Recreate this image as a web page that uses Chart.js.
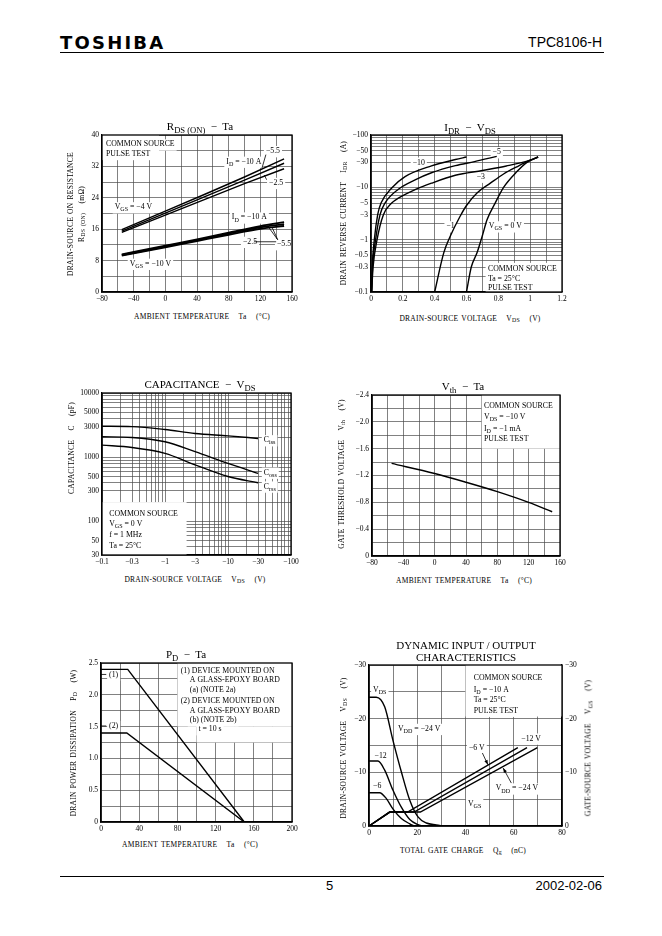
<!doctype html>
<html lang="en">
<head>
<meta charset="utf-8">
<meta name="viewport" content="width=device-width, initial-scale=1">
<title>TPC8106-H</title>
<style>
  body { margin: 0; background: #fff; }
  .page { position: relative; width: 662px; height: 936px; overflow: hidden; font-family: "Liberation Serif", "DejaVu Serif", serif; color: #000; }
  canvas { position: absolute; }
  .logo { position: absolute; left: 60px; top: 32px; font: bold 18px "DejaVu Sans", sans-serif; letter-spacing: 2.2px; }
  .part { position: absolute; right: 60px; top: 34px; font: 14px "Liberation Sans", sans-serif; }
  .rule { position: absolute; left: 60px; width: 544px; border-top: 1.3px solid #000; }
  .foot { position: absolute; top: 878px; font: 13px "Liberation Sans", sans-serif; }
  .c, .v { position: absolute; white-space: nowrap; transform: translate(-50%, -50%); }
  .v { transform: translate(-50%, -50%) rotate(-90deg); }
  .ttl { font-size: 11px; }
  .ax { font-size: 7.5px; letter-spacing: 0.25px; word-spacing: 1px; }
  sub { font-size: 0.78em; vertical-align: -0.3em; line-height: 0; }
</style>
</head>
<body>
<div class="page">
  <div class="logo">TOSHIBA</div>
  <div class="part">TPC8106-H</div>
  <div class="rule" style="top:52px"></div>

  <canvas id="rdsChart"></canvas>
  <canvas id="idrChart"></canvas>
  <canvas id="capChart"></canvas>
  <canvas id="vthChart"></canvas>
  <canvas id="pdChart"></canvas>
  <canvas id="dynChart"></canvas>

  <!-- RDS(ON) - Ta -->
  <div class="c ttl" style="left:200px;top:126px">R<sub>DS (ON)</sub> &nbsp;−&nbsp; Ta</div>
  <div class="v ax" style="left:70px;top:214px">DRAIN-SOURCE ON RESISTANCE</div>
  <div class="v ax" style="left:81px;top:214px">R<sub>DS (ON)</sub> &nbsp; (mΩ)</div>
  <div class="c ax" style="left:202px;top:316px">AMBIENT TEMPERATURE &nbsp; Ta &nbsp; (°C)</div>

  <!-- IDR - VDS -->
  <div class="c ttl" style="left:470px;top:127px">I<sub>DR</sub> &nbsp;−&nbsp; V<sub>DS</sub></div>
  <div class="v ax" style="left:343px;top:213px">DRAIN REVERSE CURRENT &nbsp; I<sub>DR</sub> &nbsp; (A)</div>
  <div class="c ax" style="left:470px;top:318px">DRAIN-SOURCE VOLTAGE &nbsp; V<sub>DS</sub> &nbsp; (V)</div>

  <!-- Capacitance - VDS -->
  <div class="c ttl" style="left:200px;top:384px">CAPACITANCE &nbsp;−&nbsp; V<sub>DS</sub></div>
  <div class="v ax" style="left:71px;top:448px">CAPACITANCE &nbsp; C &nbsp; (pF)</div>
  <div class="c ax" style="left:195px;top:579px">DRAIN-SOURCE VOLTAGE &nbsp; V<sub>DS</sub> &nbsp; (V)</div>

  <!-- Vth - Ta -->
  <div class="c ttl" style="left:463px;top:386px">V<sub>th</sub> &nbsp;−&nbsp; Ta</div>
  <div class="v ax" style="left:341px;top:474px">GATE THRESHOLD VOLTAGE &nbsp; V<sub>th</sub> &nbsp; (V)</div>
  <div class="c ax" style="left:464px;top:580px">AMBIENT TEMPERATURE &nbsp; Ta &nbsp; (°C)</div>

  <!-- PD - Ta -->
  <div class="c ttl" style="left:186px;top:654px">P<sub>D</sub> &nbsp;−&nbsp; Ta</div>
  <div class="v ax" style="left:73px;top:743px">DRAIN POWER DISSIPATION &nbsp; P<sub>D</sub> &nbsp; (W)</div>
  <div class="c ax" style="left:190px;top:844px">AMBIENT TEMPERATURE &nbsp; Ta &nbsp; (°C)</div>

  <!-- Dynamic input / output -->
  <div class="c ttl" style="left:466px;top:645px">DYNAMIC INPUT / OUTPUT</div>
  <div class="c ttl" style="left:466px;top:657px">CHARACTERISTICS</div>
  <div class="v ax" style="left:343px;top:748px">DRAIN-SOURCE VOLTAGE &nbsp; V<sub>DS</sub> &nbsp; (V)</div>
  <div class="v ax" style="left:588px;top:748px">GATE-SOURCE VOLTAGE &nbsp; V<sub>GS</sub> &nbsp; (V)</div>
  <div class="c ax" style="left:463px;top:850px">TOTAL GATE CHARGE &nbsp; Q<sub>g</sub> &nbsp; (nC)</div>

  <div class="rule" style="top:876px"></div>
  <div class="foot" style="left:326px">5</div>
  <div class="foot" style="right:60px">2002-02-06</div>
</div>

<script src="https://cdn.jsdelivr.net/npm/chart.js"></script>
<script>
  // RDS(ON) - Ta  (mOhm)
  const rdsTa4 = [-55, 0, 50, 100, 150];
  const rdsVgs4Id10 = [15.9, 20.6, 24.9, 29.3, 33.9];
  const rdsVgs4Id55 = [15.5, 20.1, 24.3, 28.5, 32.8];
  const rdsVgs4Id25 = [15.2, 19.6, 23.6, 27.6, 31.4];
  const rdsTa10 = [-55, 0, 40, 80, 120, 150];
  const rdsVgs10Id10 = [9.6, 11.8, 13.4, 15.1, 16.8, 17.8];
  const rdsVgs10Id55 = [9.4, 11.6, 13.2, 14.9, 16.5, 17.3];
  const rdsVgs10Id25 = [9.3, 11.4, 13.0, 14.6, 16.1, 16.8];
  const rdsTempLabels = [-80, -40, 0, 40, 80, 120, 160];
  const rdsLabels = [0, 8, 16, 24, 32, 40];

  // IDR - VDS  (|IDR| in A, VDS in V)
  const idrV10 = [0.004, 0.008, 0.021, 0.042, 0.063, 0.13, 0.214, 0.38, 0.53, 0.6];
  const idrI10 = [0.1, 0.3, 1, 3, 5, 9.7, 16, 25.7, 34, 38];
  const idrV5 = [0.004, 0.01, 0.029, 0.057, 0.088, 0.172, 0.277, 0.38, 0.53, 0.65, 0.79];
  const idrI5 = [0.1, 0.3, 1, 3, 5, 9.2, 13.9, 19, 26, 31, 39];
  const idrV3 = [0.004, 0.013, 0.038, 0.078, 0.13, 0.172, 0.277, 0.38, 0.53, 0.7, 0.85, 1.0, 1.05];
  const idrI3 = [0.1, 0.3, 1, 3, 5, 6.2, 9, 12, 17, 21, 25.5, 33, 38];
  const idrV1 = [0.4, 0.457, 0.5, 0.56, 0.6, 0.666, 0.75, 0.833, 0.92, 1.0, 1.05];
  const idrI1 = [0.1, 0.56, 1.2, 2.8, 4.5, 7.8, 12, 18, 25, 33, 38];
  const idrV0 = [0.6, 0.63, 0.666, 0.7, 0.729, 0.78, 0.833, 0.917, 0.98, 1.05];
  const idrI0 = [0.1, 0.3, 0.56, 1.2, 2.4, 5, 10, 20, 30, 38];
  const idrVLabels = [0, 0.2, 0.4, 0.6, 0.8, 1.0, 1.2];
  const idrILabels = [0.1, 0.3, 0.5, 1, 3, 5, 10, 30, 50, 100];

  // Capacitance - VDS  (pF, |VDS| in V)
  const capV = [0.1, 0.3, 1, 3, 10, 30];
  const ciss = [3040, 3000, 2700, 2340, 2150, 1960];
  const coss = [2080, 2030, 1740, 1220, 800, 560];
  const crss = [1540, 1420, 1150, 760, 500, 400];
  const capVLabels = [0.1, 0.3, 1, 3, 10, 30, 100];
  const capCLabels = [30, 50, 100, 300, 500, 1000, 3000, 5000, 10000];

  // Vth - Ta  (|Vth| in V)
  const vthTa = [-55, 0, 40, 80, 120, 150];
  const vth = [1.38, 1.23, 1.10, 0.96, 0.80, 0.66];
  const vthLabels = [0, 0.4, 0.8, 1.2, 1.6, 2.0, 2.4];

  // PD - Ta  (W)
  const pdTa = [0, 28, 150];
  const pd1 = [2.4, 2.4, 0];
  const pdTa2 = [0, 27, 150];
  const pd2 = [1.4, 1.4, 0];
  const pdTempLabels = [0, 40, 80, 120, 160, 200];
  const pdLabels = [0, 0.5, 1.0, 1.5, 2.0, 2.5];

  // Dynamic input/output  (Qg in nC, |V| in V)
  const vdsQ24 = [0, 3.0, 6.5, 9.9, 13.4, 16.9, 20.3, 23.8, 27.9, 30.7];
  const vds24 = [24, 24, 22.2, 16.0, 10.1, 4.8, 1.7, 0.56, 0.2, 0];
  const vdsQ12 = [0, 3.7, 6.5, 9.9, 13.4, 16.9, 20.3, 22.4];
  const vds12 = [12.1, 12.1, 10.4, 6.7, 3.5, 1.2, 0.25, 0];
  const vdsQ6 = [0, 4.4, 7.2, 9.9, 13.4, 16.9, 18.9];
  const vds6 = [6.2, 6.2, 5.1, 3.2, 1.4, 0.4, 0];
  const vgsQ6 = [0, 8.6, 16.0, 61.7];
  const vgsQ12 = [0, 8.6, 18.7, 65.5];
  const vgsQ24 = [0, 8.6, 21.3, 69.8];
  const vgsV = [0, 2.6, 2.6, 14.6];
  const qgLabels = [0, 20, 40, 60, 80];
  const dynVLabels = [0, 10, 20, 30];

  const FONT = '"Liberation Serif", "DejaVu Serif", serif';
  const FS = 7.8;
  const PL = 36, PT = 8, PB = 16;

  function steps(a, b, d) {
    const out = [];
    for (let v = a; v <= b + d / 2; v += d) out.push(+v.toFixed(6));
    return out;
  }
  function logSteps(a, b) {
    const out = [];
    for (let e = Math.floor(Math.log10(a)); e <= Math.ceil(Math.log10(b)); e++) {
      for (let m = 1; m < 10; m++) {
        const v = +(m * Math.pow(10, e)).toPrecision(6);
        if (v >= a * 0.999 && v <= b * 1.001) out.push(v);
      }
    }
    return out;
  }
  const neg = v => v === 0 ? '0' : '−' + (+v.toPrecision(6));
  const neg1 = v => v === 0 ? '0' : '−' + v.toFixed(1);
  const fix1 = v => v === 0 ? '0' : v.toFixed(1);
  const temp = v => v < 0 ? '−' + (-v) : String(v);
  const plain = v => String(v);

  function rich(ctx, s, x, y, size, align, measureOnly) {
    const segs = s.split(/(\{[^}]*\})/).filter(p => p !== '').map(p =>
      p[0] === '{' ? { t: p.slice(1, -1), sz: size * 0.78, dy: size * 0.32 } : { t: p, sz: size, dy: 0 });
    let w = 0;
    segs.forEach(g => { ctx.font = g.sz + 'px ' + FONT; g.w = ctx.measureText(g.t).width; w += g.w; });
    if (measureOnly) return w;
    let cx = align === 'center' ? x - w / 2 : align === 'right' ? x - w : x;
    ctx.textAlign = 'left';
    ctx.textBaseline = 'middle';
    ctx.fillStyle = '#000';
    segs.forEach(g => { ctx.font = g.sz + 'px ' + FONT; ctx.fillText(g.t, cx, y + g.dy); cx += g.w; });
    return w;
  }

  // white boxes, label text, leader lines and plot frame
  function notesPlugin(spec) {
    const px = (chart, x, y) => [chart.scales.x.getPixelForValue(x), chart.scales.y.getPixelForValue(y)];
    return {
      id: 'notes',
      beforeDatasetsDraw(chart) {
        const ctx = chart.ctx, a = chart.chartArea;
        ctx.save();
        ctx.beginPath();
        ctx.rect(a.left, a.top, a.right - a.left, a.bottom - a.top);
        ctx.clip();
        ctx.fillStyle = '#fff';
        (spec.boxes || []).forEach(b => {
          const [x0, y0] = px(chart, b[0], b[1]), [x1, y1] = px(chart, b[2], b[3]);
          ctx.fillRect(Math.min(x0, x1), Math.min(y0, y1), Math.abs(x1 - x0), Math.abs(y1 - y0));
        });
        (spec.texts || []).forEach(t => {
          const [x, y] = px(chart, t[0], t[1]);
          const w = rich(ctx, t[2], x, y, FS, t[3], true);
          const x0 = t[3] === 'center' ? x - w / 2 : t[3] === 'right' ? x - w : x;
          ctx.fillStyle = '#fff';
          ctx.fillRect(x0 - 2, y - FS * 0.65, w + 4, FS * 1.45);
        });
        ctx.restore();
      },
      afterDatasetsDraw(chart) {
        const ctx = chart.ctx, a = chart.chartArea;
        ctx.save();
        ctx.strokeStyle = '#000';
        ctx.fillStyle = '#000';
        ctx.lineWidth = 0.8;
        (spec.lines || []).forEach(l => {
          const [x0, y0] = px(chart, l[0], l[1]), [x1, y1] = px(chart, l[2], l[3]);
          ctx.beginPath(); ctx.moveTo(x0, y0); ctx.lineTo(x1, y1); ctx.stroke();
          if (l[4]) {
            const ang = Math.atan2(y1 - y0, x1 - x0);
            ctx.beginPath();
            ctx.moveTo(x1, y1);
            ctx.lineTo(x1 - 5 * Math.cos(ang - 0.35), y1 - 5 * Math.sin(ang - 0.35));
            ctx.lineTo(x1 - 5 * Math.cos(ang + 0.35), y1 - 5 * Math.sin(ang + 0.35));
            ctx.closePath(); ctx.fill();
          }
        });
        (spec.texts || []).forEach(t => {
          const [x, y] = px(chart, t[0], t[1]);
          rich(ctx, t[2], x, y, FS, t[3]);
        });
        ctx.lineWidth = 1.3;
        ctx.strokeRect(a.left, a.top, a.right - a.left, a.bottom - a.top);
        ctx.restore();
      }
    };
  }

  function axis(o) {
    const labels = o.labels;
    const near = v => labels.some(l => Math.abs(l - v) <= 1e-6 * Math.max(1, Math.abs(l)));
    return {
      type: o.type || 'linear',
      position: o.position,
      min: o.min,
      max: o.max,
      afterBuildTicks: s => { s.ticks = o.grid.map(v => ({ value: v })); },
      afterFit: s => {
        if (o.width !== undefined) s.width = o.width;
        if (o.height !== undefined) s.height = o.height;
      },
      ticks: {
        autoSkip: false, maxRotation: 0, minRotation: 0, padding: 3, color: '#000',
        font: { family: FONT, size: 7.5 },
        callback: v => near(v) ? o.fmt(v) : ''
      },
      grid: { display: o.showGrid !== false, color: '#4a4a4a', lineWidth: 0.7, drawTicks: false },
      border: { display: true, color: '#000', width: 1.2 }
    };
  }

  function series(xs, ys, extra) {
    return Object.assign({
      data: xs.map((x, i) => ({ x, y: ys[i] })),
      showLine: true, pointRadius: 0, borderColor: '#000', borderWidth: 1.4, tension: 0
    }, extra);
  }
  const curve = { cubicInterpolationMode: 'monotone' };

  function makeChart(id, box, padR, scales, datasets, spec) {
    const c = document.getElementById(id);
    const w = box[2] - box[0] + PL + padR, h = box[3] - box[1] + PT + PB;
    c.width = w;
    c.height = h;
    Object.assign(c.style, { left: (box[0] - PL) + 'px', top: (box[1] - PT) + 'px', width: w + 'px', height: h + 'px' });
    return new Chart(c, {
      type: 'scatter',
      data: { datasets },
      options: {
        responsive: false, animation: false, events: [],
        layout: { padding: { left: 0, top: PT, right: scales.y2 ? 0 : padR, bottom: 0 } },
        scales,
        plugins: { legend: { display: false }, tooltip: { enabled: false } }
      },
      plugins: [notesPlugin(spec)]
    });
  }

  // 1. RDS(ON) - Ta
  makeChart('rdsChart', [102, 135, 292, 292], 14, {
    x: axis({ min: -80, max: 160, grid: steps(-80, 160, 20), labels: rdsTempLabels, fmt: temp, height: PB }),
    y: axis({ min: 0, max: 40, grid: steps(0, 40, 4), labels: rdsLabels, fmt: plain, width: PL })
  }, [
    series(rdsTa4, rdsVgs4Id10),
    series(rdsTa4, rdsVgs4Id55),
    series(rdsTa4, rdsVgs4Id25),
    series(rdsTa10, rdsVgs10Id10, Object.assign({ borderWidth: 1.9 }, curve)),
    series(rdsTa10, rdsVgs10Id55, Object.assign({ borderWidth: 1.9 }, curve)),
    series(rdsTa10, rdsVgs10Id25, Object.assign({ borderWidth: 1.9 }, curve))
  ], {
    boxes: [[-80, 33.6, -8, 40]],
    texts: [
      [-75, 37.6, 'COMMON SOURCE', 'left'],
      [-75, 35.2, 'PULSE TEST', 'left'],
      [127, 35.9, '−5.5', 'left'],
      [77, 33.2, 'I{D} = −10 A', 'left'],
      [131, 27.8, '−2.5', 'left'],
      [-64, 21.6, 'V{GS} = −4 V', 'left'],
      [84, 19.0, 'I{D} = −10 A', 'left'],
      [98, 12.8, '−2.5', 'left'],
      [141, 12.2, '−5.5', 'left'],
      [-45, 7.2, 'V{GS} = −10 V', 'left']
    ],
    lines: [
      [127, 35.0, 122, 31.5],
      [128, 28.6, 125, 29.8],
      [142, 13.3, 129, 16.9],
      [142, 13.3, 135, 16.4],
      [112, 12.8, 140, 12.8]
    ]
  });

  // 2. IDR - VDS
  makeChart('idrChart', [371, 135, 562, 292], 14, {
    x: axis({ min: 0, max: 1.2, grid: steps(0, 1.2, 0.1), labels: idrVLabels, fmt: plain, height: PB }),
    y: axis({ type: 'logarithmic', min: 0.1, max: 100, grid: logSteps(0.1, 100), labels: idrILabels, fmt: neg, width: PL })
  }, [
    series(idrV10, idrI10, curve),
    series(idrV5, idrI5, curve),
    series(idrV3, idrI3, curve),
    series(idrV1, idrI1, curve),
    series(idrV0, idrI0, curve)
  ], {
    boxes: [[0.72, 0.1, 1.2, 0.36]],
    texts: [
      [0.30, 29.7, '−10', 'center'],
      [0.79, 47, '−5', 'center'],
      [0.69, 16, '−3', 'center'],
      [0.50, 1.8, '−1', 'center'],
      [0.74, 1.8, 'V{GS} = 0 V', 'left'],
      [0.735, 0.27, 'COMMON SOURCE', 'left'],
      [0.735, 0.18, 'Ta = 25°C', 'left'],
      [0.735, 0.12, 'PULSE TEST', 'left']
    ]
  });

  // 3. Capacitance - VDS
  makeChart('capChart', [102, 393, 291, 555], 14, {
    x: axis({ type: 'logarithmic', min: 0.1, max: 100, grid: logSteps(0.1, 100), labels: capVLabels, fmt: neg, height: PB }),
    y: axis({ type: 'logarithmic', min: 30, max: 10000, grid: logSteps(30, 10000), labels: capCLabels, fmt: plain, width: PL })
  }, [
    series(capV, ciss, curve),
    series(capV, coss, curve),
    series(capV, crss, curve)
  ], {
    boxes: [[0.1, 30, 2.2, 200]],
    texts: [
      [0.13, 131, 'COMMON SOURCE', 'left'],
      [0.13, 91, 'V{GS} = 0 V', 'left'],
      [0.13, 62, 'f = 1 MHz', 'left'],
      [0.13, 42, 'Ta = 25°C', 'left'],
      [37, 1840, 'C{iss}', 'left'],
      [37, 575, 'C{oss}', 'left'],
      [37, 350, 'C{rss}', 'left']
    ]
  });

  // 4. Vth - Ta
  makeChart('vthChart', [372, 395, 560, 556], 14, {
    x: axis({ min: -80, max: 160, grid: steps(-80, 160, 20), labels: rdsTempLabels, fmt: temp, height: PB }),
    y: axis({ min: 0, max: 2.4, grid: steps(0, 2.4, 0.2), labels: vthLabels, fmt: neg1, width: PL })
  }, [
    series(vthTa, vth, curve)
  ], {
    boxes: [[60, 1.6, 160, 2.4]],
    texts: [
      [63, 2.24, 'COMMON SOURCE', 'left'],
      [63, 2.07, 'V{DS} = −10 V', 'left'],
      [63, 1.90, 'I{D} = −1 mA', 'left'],
      [63, 1.74, 'PULSE TEST', 'left']
    ]
  });

  // 5. PD - Ta
  makeChart('pdChart', [101, 663, 292, 822], 14, {
    x: axis({ min: 0, max: 200, grid: steps(0, 200, 20), labels: pdTempLabels, fmt: plain, height: PB }),
    y: axis({ min: 0, max: 2.5, grid: steps(0, 2.5, 0.25), labels: pdLabels, fmt: fix1, width: PL })
  }, [
    series(pdTa, pd1),
    series(pdTa2, pd2)
  ], {
    boxes: [[80, 1.5, 200, 2.5], [100, 1.25, 200, 1.5]],
    texts: [
      [8.5, 2.32, '(1)', 'left'],
      [8.5, 1.51, '(2)', 'left'],
      [83.5, 2.38, '(1) DEVICE MOUNTED ON', 'left'],
      [93, 2.23, 'A GLASS-EPOXY BOARD', 'left'],
      [93, 2.08, '(a) (NOTE 2a)', 'left'],
      [83.5, 1.90, '(2) DEVICE MOUNTED ON', 'left'],
      [93, 1.745, 'A GLASS-EPOXY BOARD', 'left'],
      [93, 1.60, '(b) (NOTE 2b)', 'left'],
      [102, 1.46, 't = 10 s', 'left']
    ],
    lines: [
      [0, 2.32, 5.5, 2.32],
      [0, 1.51, 5.5, 1.51]
    ]
  });

  // 6. Dynamic input / output characteristics
  makeChart('dynChart', [369, 665, 562, 826], 24, {
    x: axis({ min: 0, max: 80, grid: steps(0, 80, 10), labels: qgLabels, fmt: plain, height: PB }),
    y: axis({ min: 0, max: 30, grid: steps(0, 30, 5), labels: dynVLabels, fmt: neg, width: PL }),
    y2: axis({ min: 0, max: 30, position: 'right', grid: steps(0, 30, 5), labels: dynVLabels, fmt: neg, width: 24, showGrid: false })
  }, [
    series(vdsQ24, vds24, curve),
    series(vdsQ12, vds12, curve),
    series(vdsQ6, vds6, curve),
    series(vgsQ6, vgsV, { yAxisID: 'y2' }),
    series(vgsQ12, vgsV, { yAxisID: 'y2' }),
    series(vgsQ24, vgsV, { yAxisID: 'y2' })
  ], {
    boxes: [[40, 20.4, 80, 30]],
    texts: [
      [43.4, 27.6, 'COMMON SOURCE', 'left'],
      [43.4, 25.4, 'I{D} = −10 A', 'left'],
      [43.4, 23.4, 'Ta = 25°C', 'left'],
      [43.4, 21.5, 'PULSE TEST', 'left'],
      [1.7, 25.3, 'V{DS}', 'left'],
      [12, 18.1, 'V{DD} = −24 V', 'left'],
      [2.3, 13.1, '−12', 'left'],
      [1.7, 7.4, '−6', 'left'],
      [41.4, 14.5, '−6 V', 'left'],
      [63.1, 16.3, '−12 V', 'left'],
      [52.5, 7.0, 'V{DD} = −24 V', 'left'],
      [41, 4.2, 'V{GS}', 'left']
    ],
    lines: [
      [47, 13.6, 49.3, 11.4, true],
      [59, 8.0, 55.6, 10.8, true]
    ]
  });
</script>
</body>
</html>
